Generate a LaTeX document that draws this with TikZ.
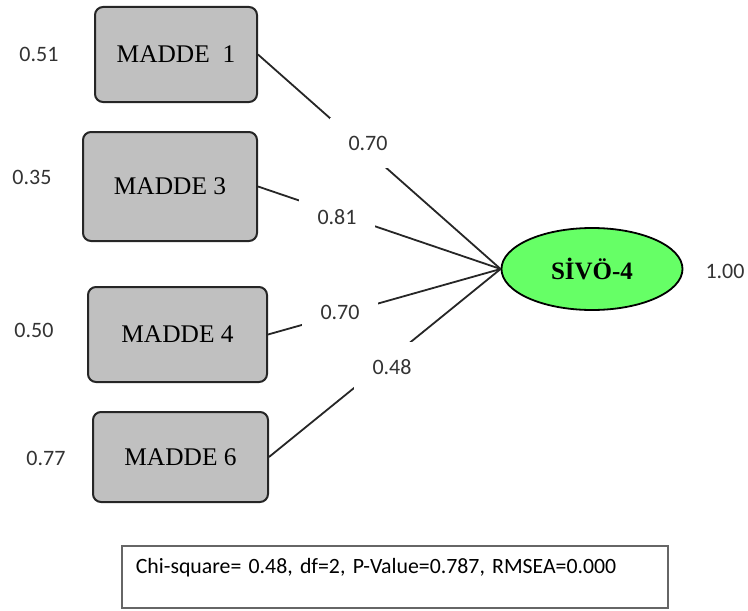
\documentclass[tikz,border=0pt]{standalone}
\usepackage{fontspec}
\setmainfont{Liberation Serif}
\newfontfamily\calfont{Carlito}
\usetikzlibrary{shapes.geometric}

\definecolor{boxgray}{RGB}{192,192,192}
\definecolor{latgreen}{RGB}{102,255,102}

\begin{document}
\begin{tikzpicture}[
  x=0.5pt, y=-0.5pt,
  item/.style={rectangle, draw=black!85, fill=boxgray, line width=1pt,
    rounded corners=4pt, font=\fontsize{12.7}{14}\selectfont},
  latent/.style={ellipse, draw=black, fill=latgreen, line width=0.9pt,
    minimum width=90.5pt, minimum height=41pt, inner sep=0pt,
    font=\fontsize{12.5}{14}\selectfont\bfseries},
  conn/.style={draw=black!85, line width=0.9pt},
  load/.style={fill=white, inner sep=0pt, minimum width=38pt,
    minimum height=25pt, text=black!80, font=\calfont\fontsize{11}{13}\selectfont},
  err/.style={text=black!80, font=\calfont\fontsize{11}{13}\selectfont},
  fitbox/.style={rectangle, draw=black!60, line width=0.8pt, align=left,
    text width=259pt, inner xsep=7pt, inner ysep=6pt,
    text height=8pt, text depth=11pt, font=\calfont\fontsize{10.9}{13}\selectfont}
]
\useasboundingbox (0,0) rectangle (748,610);

% observed items
\node[item, minimum width=81pt, minimum height=47.5pt]   (m1) at (176,54.5)  {MADDE\ \ 1};
\node[item, minimum width=87pt, minimum height=54.5pt]   (m3) at (170,186.5) {MADDE 3};
\node[item, minimum width=89.5pt, minimum height=47.5pt] (m4) at (177.5,334.5) {MADDE 4};
\node[item, minimum width=87.5pt, minimum height=45pt]   (m6) at (180.5,457) {MADDE 6};

% latent factor
\node[latent] (sivo) at (592,269) {SİVÖ-4};

% paths
\draw[conn] (m1.east) -- (sivo.west);
\draw[conn] (m3.east) -- (sivo.west);
\draw[conn] (m4.east) -- (sivo.west);
\draw[conn] (m6.east) -- (sivo.west);

% loadings
\node[load] (l1) at (368,143) {0.70};
\node[load] (l3) at (337,217) {0.81};
\node[load] (l4) at (340,312) {0.70};
\node[load] (l6) at (392,367) {0.48};

% error variances
\node[err] (e1) at (39,54)  {0.51};
\node[err] (e3) at (32,177) {0.35};
\node[err] (e4) at (34,330) {0.50};
\node[err] (e6) at (46,458) {0.77};
\node[err] (ef) at (725,271) {1.00};

% fit statistics
\node[fitbox, anchor=north west] (fit) at (121,545)
  {Chi-square= 0.48, df=2, P-Value=0.787, RMSEA=0.000};
\end{tikzpicture}
\end{document}
